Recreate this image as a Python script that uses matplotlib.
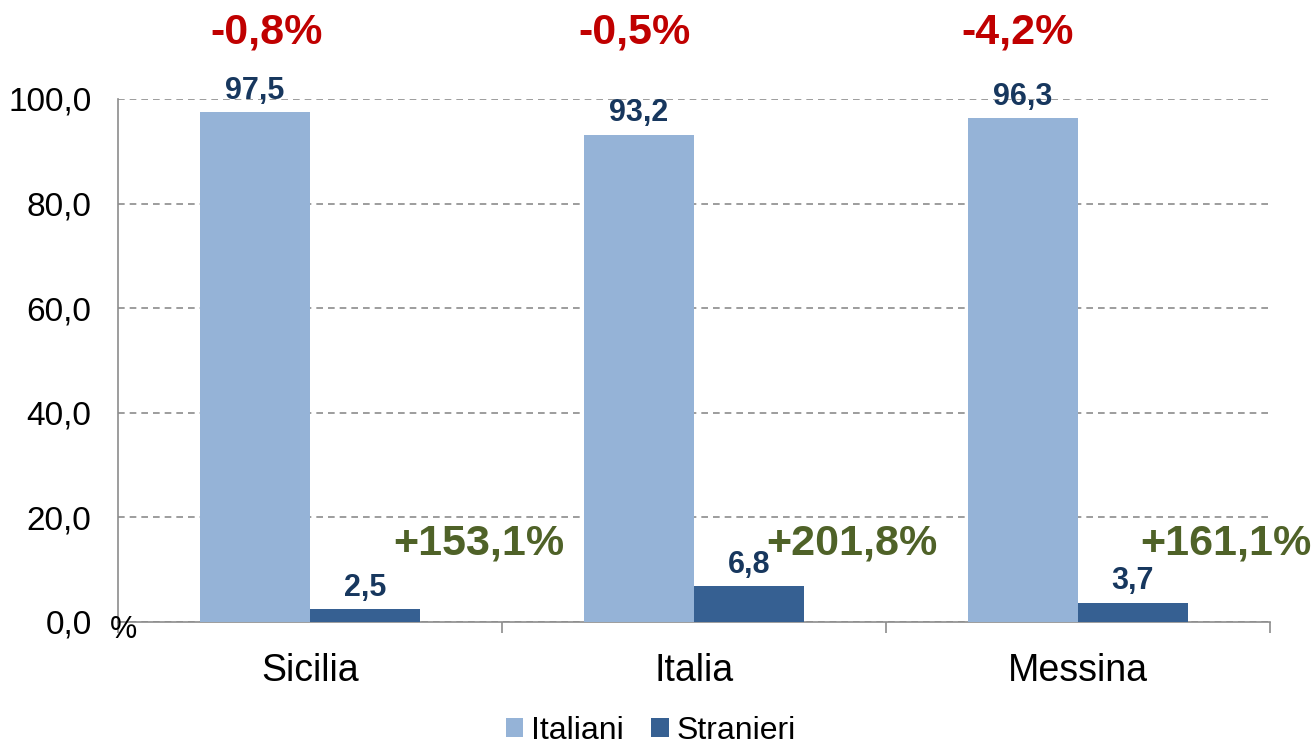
import numpy as np
import matplotlib
matplotlib.use("Agg")
import matplotlib.pyplot as plt
from matplotlib.ticker import FuncFormatter

plt.rcParams['font.family'] = ['Liberation Sans', 'DejaVu Sans']

# data
categories = ['Sicilia', 'Italia', 'Messina']
italiani = [97.5, 93.2, 96.3]
stranieri = [2.5, 6.8, 3.7]
var_italiani = ['-0,8%', '-0,5%', '-4,2%']
var_stranieri = ['+153,1%', '+201,8%', '+161,1%']

# horizontal nudges of the variation labels (category units)
dx_red = [-0.113, -0.155, -0.157]
dx_green = [0.44, 0.41, 0.385]

col_ita = '#95B3D7'
col_str = '#366092'
col_val = '#17375E'
col_red = '#C00000'
col_green = '#4F6228'

fig = plt.figure(figsize=(13.15, 7.44), dpi=100)
ax = fig.add_axes([0.0897, 0.164, 0.8761, 0.703])

x = np.arange(len(categories))
w = 0.286
b1 = ax.bar(x - w / 2, italiani, w, color=col_ita, label='Italiani', zorder=3)
b2 = ax.bar(x + w / 2, stranieri, w, color=col_str, label='Stranieri', zorder=3)

def fmt(v):
    return ('%.1f' % v).replace('.', ',')

for rect, v in zip(list(b1) + list(b2), italiani + stranieri):
    ax.annotate(fmt(v), (rect.get_x() + rect.get_width() / 2, v),
                xytext=(0, 4.5), textcoords='offset points', ha='center', va='bottom',
                fontsize=22, fontweight='bold', color=col_val, zorder=4)

# variation labels
for i in range(len(categories)):
    ax.text(x[i] + dx_red[i], 112.8, var_italiani[i], ha='center', va='center',
            fontsize=31, fontweight='bold', color=col_red, clip_on=False)
    ax.text(x[i] + dx_green[i], 15.0, var_stranieri[i], ha='center', va='center',
            fontsize=31, fontweight='bold', color=col_green, clip_on=False, zorder=5)

ax.set_xlim(-0.5, 2.5)
ax.set_ylim(0, 100)
ax.set_yticks(np.arange(0, 101, 20))
ax.yaxis.set_major_formatter(FuncFormatter(lambda v, p: fmt(v)))
ax.tick_params(axis='y', length=0, labelsize=24, pad=19)
ax.grid(axis='y', linestyle=(0, (4, 3)), color='#8C8C8C', linewidth=1.2, zorder=0)

ax.set_xticks(x)
ax.set_xticklabels(categories, fontsize=27)
ax.tick_params(axis='x', length=0, pad=22)
ax.set_xticks(np.arange(-0.5, 2.6, 1), minor=True)
ax.tick_params(axis='x', which='minor', length=8, color='#8C8C8C', width=1.2)

for s in ['top', 'right']:
    ax.spines[s].set_visible(False)
for s in ['left', 'bottom']:
    ax.spines[s].set_color('#8C8C8C')
    ax.spines[s].set_linewidth(1.2)

ax.text(-0.52, -1.6, '%', ha='left', va='center', fontsize=22, clip_on=False)

fig.legend(handles=[b1, b2], loc='center', bbox_to_anchor=(0.495, 0.018), ncol=2,
           frameon=False, fontsize=23, handlelength=0.55, handleheight=0.55,
           handletextpad=0.25, columnspacing=0.85)

fig.savefig('out.png', dpi=100)
